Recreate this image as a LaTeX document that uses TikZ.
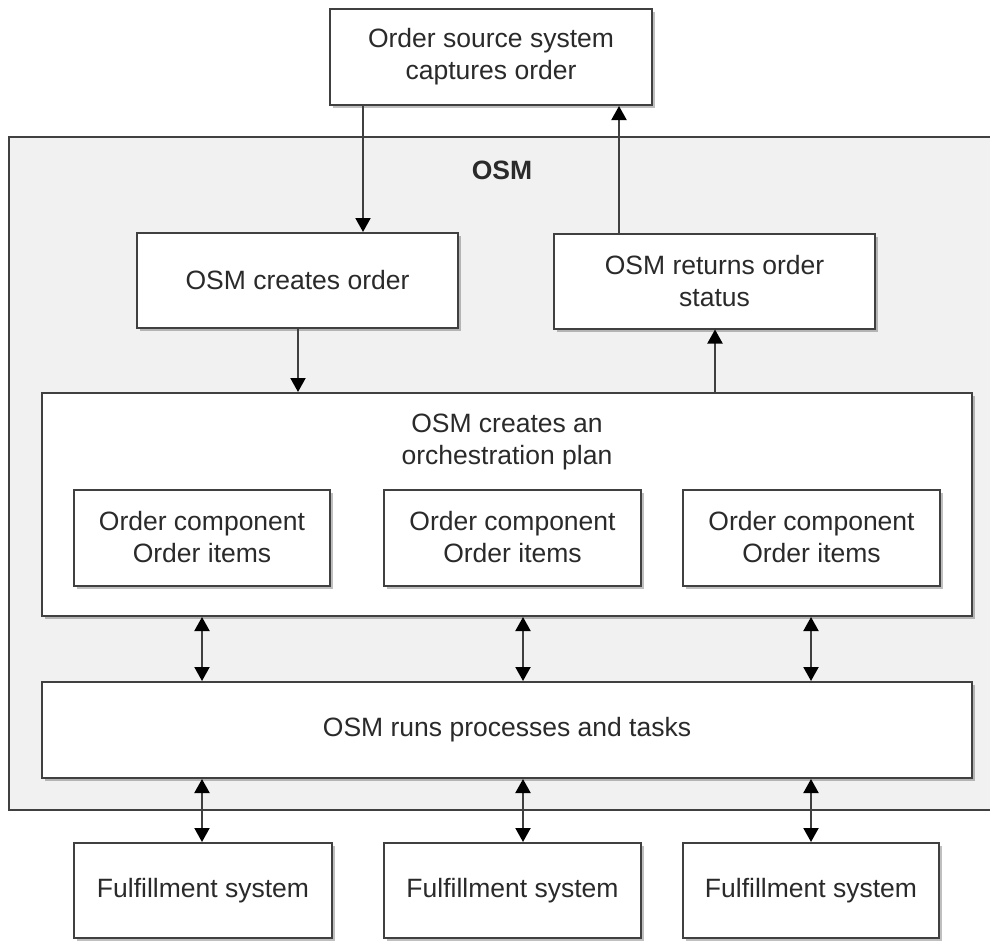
\documentclass[tikz,border=0pt]{standalone}
\usepackage{fontspec}
\setmainfont{Liberation Sans}
\usetikzlibrary{arrows.meta,shadows}
\definecolor{linec}{HTML}{404040}
\definecolor{textc}{HTML}{2A2A2A}
\definecolor{osmfill}{HTML}{F1F1F1}
\tikzset{
  x=1pt,y=-1pt,
  box/.style={draw=linec,line width=2pt,fill=white,inner sep=0pt,align=center,text=textc,
    font=\fontsize{26.5}{32}\selectfont,
    drop shadow={shadow xshift=3pt,shadow yshift=-3pt,fill=black,opacity=0.25}},
  arr/.style={draw=linec,line width=2pt,-{Triangle[width=15pt,length=14pt,color=black]}},
  darr/.style={draw=linec,line width=2pt,{Triangle[width=15pt,length=14pt,color=black]}-{Triangle[width=15pt,length=14pt,color=black]}}
}
\begin{document}
\begin{tikzpicture}
\useasboundingbox (0,0) rectangle (990,942);
% OSM frame (its right side runs past the picture's edge)
\begin{scope}
\clip (0,0) rectangle (990,942);
\node[draw=linec,line width=2pt,fill=osmfill,inner sep=0pt,minimum width=991pt,minimum height=673pt] (osm) at (504.5,473.5) {};
\end{scope}
\node[text=textc,font=\fontsize{26.5}{32}\selectfont\bfseries] (osmlabel) at (502,170) {OSM};
% boxes
\node[box,minimum width=322pt,minimum height=96pt] (src) at (491,57) {Order source system\\captures order};
\node[box,minimum width=321pt,minimum height=95pt] (create) at (297.5,280.5) {OSM creates order};
\node[box,minimum width=321pt,minimum height=95pt] (ret) at (714.5,281) {OSM returns order\\status};
\node[box,minimum width=930pt,minimum height=223pt] (plan) at (507,504.5) {};
\node[text=textc,font=\fontsize{26.5}{32}\selectfont,align=center,inner sep=0pt] (plantext) at (507,442) {OSM creates an\\orchestration plan};
\node[box,minimum width=256pt,minimum height=96pt] (c1) at (202,537.5) {Order component\\Order items};
\node[box,minimum width=257pt,minimum height=96pt] (c2) at (512.5,537.5) {Order component\\Order items};
\node[box,minimum width=257pt,minimum height=96pt] (c3) at (811.5,537.5) {Order component\\Order items};
\node[box,minimum width=930pt,minimum height=96pt] (run) at (507,730) {OSM runs processes and tasks};
\node[box,minimum width=258pt,minimum height=95pt] (f1) at (203,890.5) {Fulfillment system};
\node[box,minimum width=257pt,minimum height=95pt] (f2) at (512.5,890.5) {Fulfillment system};
\node[box,minimum width=256pt,minimum height=95pt] (f3) at (811,890.5) {Fulfillment system};
% connector x positions
\coordinate (xa) at (363,0);
\coordinate (xb) at (619,0);
\coordinate (xc) at (298,0);
\coordinate (xd) at (715,0);
\coordinate (x1) at (202,0);
\coordinate (x2) at (523,0);
\coordinate (x3) at (811,0);
% arrows
\draw[arr] (src.south -| xa) -- (create.north -| xa);
\draw[arr] (ret.north -| xb) -- (src.south -| xb);
\draw[arr] (create.south -| xc) -- (plan.north -| xc);
\draw[arr] (plan.north -| xd) -- (ret.south -| xd);
\draw[darr] (plan.south -| x1) -- (run.north -| x1);
\draw[darr] (plan.south -| x2) -- (run.north -| x2);
\draw[darr] (plan.south -| x3) -- (run.north -| x3);
\draw[darr] (run.south -| x1) -- (f1.north -| x1);
\draw[darr] (run.south -| x2) -- (f2.north -| x2);
\draw[darr] (run.south -| x3) -- (f3.north -| x3);
\end{tikzpicture}
\end{document}
